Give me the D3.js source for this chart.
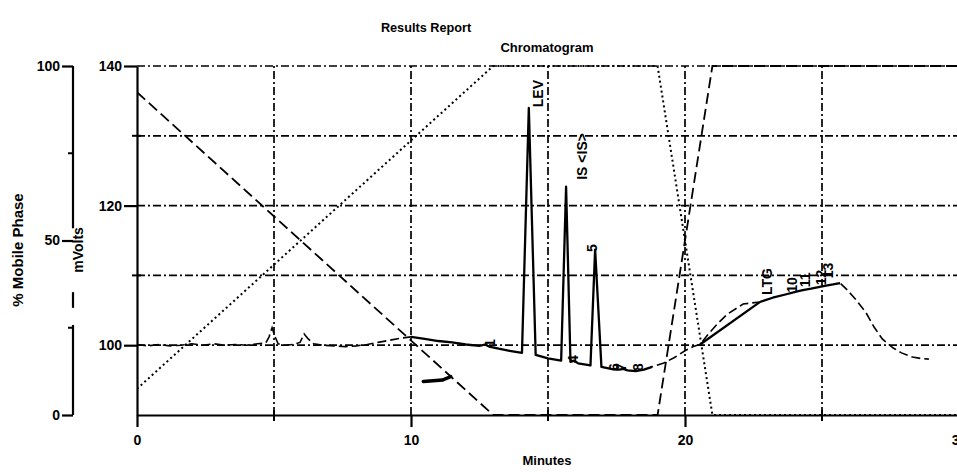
<!DOCTYPE html>
<html>
<head>
<meta charset="utf-8">
<script src="https://cdn.jsdelivr.net/npm/d3@7"></script>
<style>
  html, body { margin: 0; padding: 0; background: #fff; }
  svg { display: block; font-family: "Liberation Sans", Arial, sans-serif; font-weight: bold; }
</style>
</head>
<body>
<svg id="chart" width="957" height="474"></svg>
<script>
// Detector trace: [minutes, mV]
const detectorTrace = [
  [0.0,100.1],[0.4,99.9],[0.8,100.1],[1.2,99.9],[1.6,100.0],[2.0,100.2],[2.4,100.0],[2.8,100.2],
  [3.2,100.0],[3.6,100.1],[4.0,100.0],[4.4,100.2],[4.7,100.3],[4.82,101.2],[4.93,102.5],[5.03,101.3],
  [5.15,100.2],[5.4,100.0],[5.7,100.1],[5.95,100.4],[6.1,101.6],[6.25,100.9],[6.45,100.2],[6.8,100.0],
  [7.2,99.9],[7.6,99.8],[8.0,99.9],[8.4,100.1],[8.8,100.4],[9.2,100.7],[9.6,101.0],[10.0,101.2],
  [10.5,100.9],[11.0,100.6],[11.5,100.4],[12.0,100.1],[12.5,99.9],[12.7,100.1],[12.85,99.8],[13.2,99.5],
  [13.6,99.2],[14.05,98.9],[14.3,134.0],[14.55,98.6],[15.0,98.1],[15.48,97.8],[15.66,122.7],[15.82,97.6],
  [15.95,97.8],[16.1,97.4],[16.55,97.1],[16.72,113.7],[16.95,96.9],[17.3,96.6],[17.6,96.5],[17.75,96.6],
  [17.9,96.4],[18.2,96.3],[18.5,96.5],[18.8,96.9],[19.2,97.4],[19.6,98.2],[20.0,99.2],[20.3,99.8],
  [20.55,100.1],[20.85,101.6],[21.17,103.0],[21.53,104.4],[22.12,105.9],[22.74,106.2],[23.2,106.8],
  [23.7,107.3],[24.1,107.7],[24.3,107.9],[24.6,108.1],[25.1,108.5],[25.4,108.7],[25.66,108.9],
  [25.9,108.0],[26.2,106.7],[26.6,104.7],[26.9,102.6],[27.2,100.9],[27.6,99.6],[27.9,98.9],
  [28.3,98.3],[28.6,98.1],[28.9,98.0]
];

// Time windows where the trace is integrated (drawn solid) vs. plain (dashed)
const integratedWindows = [[10, 18.8], [22.74, 25.66]];
const plainWindows = [[0, 10], [18.8, 22.74], [25.66, 30]];

// Drawn integration baseline under the LTG region
const integrationBaseline = [[20.55, 100.1], [22.74, 106.2]];

// Event mark on the trace
const eventMark = [[10.45, 94.8], [11.15, 95.0], [11.45, 95.5]];

// Mobile phase gradient program (% of each solvent)
const gradientTime = [0, 13, 19, 21, 30];
const solventA = [92.5, 0, 0, 100, 100];
const solventB = [7.5, 100, 100, 0, 0];

// Peak labels and where they are printed (minutes, mV)
const peakNames = ["1", "LEV", "IS <IS>", "4", "5", "6", "7", "8", "LTG", "10", "11", "12", "13"];
const labelTime = [13.07, 14.82, 16.42, 16.09, 16.79, 17.6, 17.85, 18.47, 23.18, 24.09, 24.56, 25.15, 25.4];
const labelMV = [99.74, 134.1, 123.7, 97.45, 113.35, 96.3, 96.3, 96.3, 107.2, 107.5, 108.3, 108.6, 109.6];

// Axis ticks
const timeMajor = [0, 10, 20, 30];
const timeMinor = [5, 15, 25];
const timeGrid = [5, 10, 15, 20, 25, 30];
const mvMajor = [100, 120, 140];
const mvMinor = [110, 130];
const mvGrid = [100, 110, 120, 130, 140];
const pctMajor = [0, 50, 100];
const pctMinor = [25, 75];
// Stretches of the % axis line left visible around its "mVolts" caption
const pctAxisRuns = [[100, 53.5], [35.2, 30.7], [25.8, 0]];

const svg = d3.select("#chart");
const W = 957, H = 474;

const x = d3.scaleLinear().domain([0, 30]).range([137, 959]);
const yMV = d3.scaleLinear().domain([90, 140]).range([415, 66]);
const yPct = d3.scaleLinear().domain([0, 100]).range([415, 66]);

const defs = svg.append("defs");
defs.append("clipPath").attr("id", "plotClip")
  .append("rect").attr("x", x(0)).attr("y", yMV(140) - 6)
  .attr("width", W - x(0)).attr("height", yMV(90) - yMV(140) + 12);

function windowClip(id, windows) {
  const cp = defs.append("clipPath").attr("id", id);
  windows.forEach(([a, b]) => {
    cp.append("rect").attr("x", x(a)).attr("y", 0).attr("width", x(b) - x(a)).attr("height", H);
  });
}
windowClip("solidClip", integratedWindows);
windowClip("dashClip", plainWindows);

// Grid (dash-dot)
const grid = svg.append("g").attr("stroke", "#000").attr("stroke-width", 1.7)
  .attr("stroke-dasharray", "8,3,2,3").attr("fill", "none");
grid.selectAll("line.h").data(mvGrid).join("line").attr("class", "h")
  .attr("x1", x(0)).attr("x2", W).attr("y1", d => yMV(d)).attr("y2", d => yMV(d));
grid.selectAll("line.v").data(timeGrid).join("line").attr("class", "v")
  .attr("x1", d => x(d)).attr("x2", d => x(d)).attr("y1", yMV(90)).attr("y2", yMV(140));

// Plotted series
const plot = svg.append("g").attr("clip-path", "url(#plotClip)");

const pctLine = d3.line().x(d => x(d[0])).y(d => yPct(d[1]));
plot.append("path").datum(gradientTime.map((t, i) => [t, solventA[i]]))
  .attr("d", pctLine).attr("fill", "none").attr("stroke", "#000")
  .attr("stroke-width", 1.8).attr("stroke-dasharray", "11,5");
plot.append("path").datum(gradientTime.map((t, i) => [t, solventB[i]]))
  .attr("d", pctLine).attr("fill", "none").attr("stroke", "#000")
  .attr("stroke-width", 2).attr("stroke-dasharray", "2,3");

const mvLine = d3.line().x(d => x(d[0])).y(d => yMV(d[1]));
plot.append("g").attr("clip-path", "url(#dashClip)")
  .append("path").datum(detectorTrace).attr("d", mvLine)
  .attr("fill", "none").attr("stroke", "#000").attr("stroke-width", 1.6)
  .attr("stroke-dasharray", "9,4");
plot.append("g").attr("clip-path", "url(#solidClip)")
  .append("path").datum(detectorTrace).attr("d", mvLine)
  .attr("fill", "none").attr("stroke", "#000").attr("stroke-width", 2.3)
  .attr("stroke-linejoin", "round");
plot.append("path").datum(integrationBaseline).attr("d", mvLine)
  .attr("fill", "none").attr("stroke", "#000").attr("stroke-width", 2.3);
plot.append("path").datum(eventMark).attr("d", mvLine)
  .attr("fill", "none").attr("stroke", "#000").attr("stroke-width", 3.5)
  .attr("stroke-linecap", "round");

// Axes
function styleAxis(g, size) {
  g.selectAll("text").attr("font-size", size).attr("font-weight", "bold")
    .attr("font-family", "'Liberation Sans', Arial, sans-serif").attr("fill", "#000");
  g.selectAll("line, path").attr("stroke", "#000").attr("stroke-width", 2.2);
}

const mvAxis = svg.append("g").attr("transform", `translate(${x(0)},0)`)
  .call(d3.axisLeft(yMV).tickValues(mvMajor).tickSize(13).tickPadding(2).tickSizeOuter(0)
    .tickFormat(d3.format("d")));
styleAxis(mvAxis, 14);
mvAxis.selectAll("line.minor").data(mvMinor).join("line").attr("class", "minor")
  .attr("x1", -5).attr("x2", 4).attr("y1", d => yMV(d)).attr("y2", d => yMV(d))
  .attr("stroke", "#000").attr("stroke-width", 2);

const timeAxis = svg.append("g").attr("transform", `translate(0,${yMV(90)})`)
  .call(d3.axisBottom(x).tickValues(timeMajor).tickSize(12).tickPadding(8).tickSizeOuter(0)
    .tickFormat(d3.format("d")));
styleAxis(timeAxis, 14);
timeAxis.selectAll("line.minor").data(timeMinor).join("line").attr("class", "minor")
  .attr("x1", d => x(d)).attr("x2", d => x(d)).attr("y1", -5).attr("y2", 6)
  .attr("stroke", "#000").attr("stroke-width", 2);

const pctAxis = svg.append("g").attr("transform", "translate(73,0)")
  .call(d3.axisLeft(yPct).tickValues(pctMajor).tickSize(11).tickPadding(2).tickSizeOuter(0)
    .tickFormat(d3.format("d")));
styleAxis(pctAxis, 14);
pctAxis.select("path.domain").remove();
pctAxis.selectAll("line.run").data(pctAxisRuns).join("line").attr("class", "run")
  .attr("x1", 0).attr("x2", 0).attr("y1", d => yPct(d[0])).attr("y2", d => yPct(d[1]))
  .attr("stroke", "#000").attr("stroke-width", 2.2);
pctAxis.selectAll("line.minor").data(pctMinor).join("line").attr("class", "minor")
  .attr("x1", -5).attr("x2", 0).attr("y1", d => yPct(d)).attr("y2", d => yPct(d))
  .attr("stroke", "#000").attr("stroke-width", 2);

// Peak labels
svg.append("g").selectAll("text").data(peakNames).join("text")
  .attr("transform", (d, i) => `translate(${x(labelTime[i])},${yMV(labelMV[i])}) rotate(-90)`)
  .attr("font-size", 14).attr("fill", "#000")
  .text(d => d);

// Titles and axis captions
svg.append("text").attr("x", 426).attr("y", 32).attr("text-anchor", "middle")
  .attr("font-size", 12.7).text("Results Report");
svg.append("text").attr("x", (x(0) + W) / 2).attr("y", 52).attr("text-anchor", "middle")
  .attr("font-size", 13).text("Chromatogram");
svg.append("text").attr("x", (x(0) + W) / 2).attr("y", 465).attr("text-anchor", "middle")
  .attr("font-size", 13).text("Minutes");
svg.append("text").attr("transform", "translate(23,250) rotate(-90)").attr("text-anchor", "middle")
  .attr("font-size", 15).text("% Mobile Phase");
svg.append("text").attr("transform", "translate(83,250) rotate(-90)").attr("text-anchor", "middle")
  .attr("font-size", 14).text("mVolts");
</script>
</body>
</html>
